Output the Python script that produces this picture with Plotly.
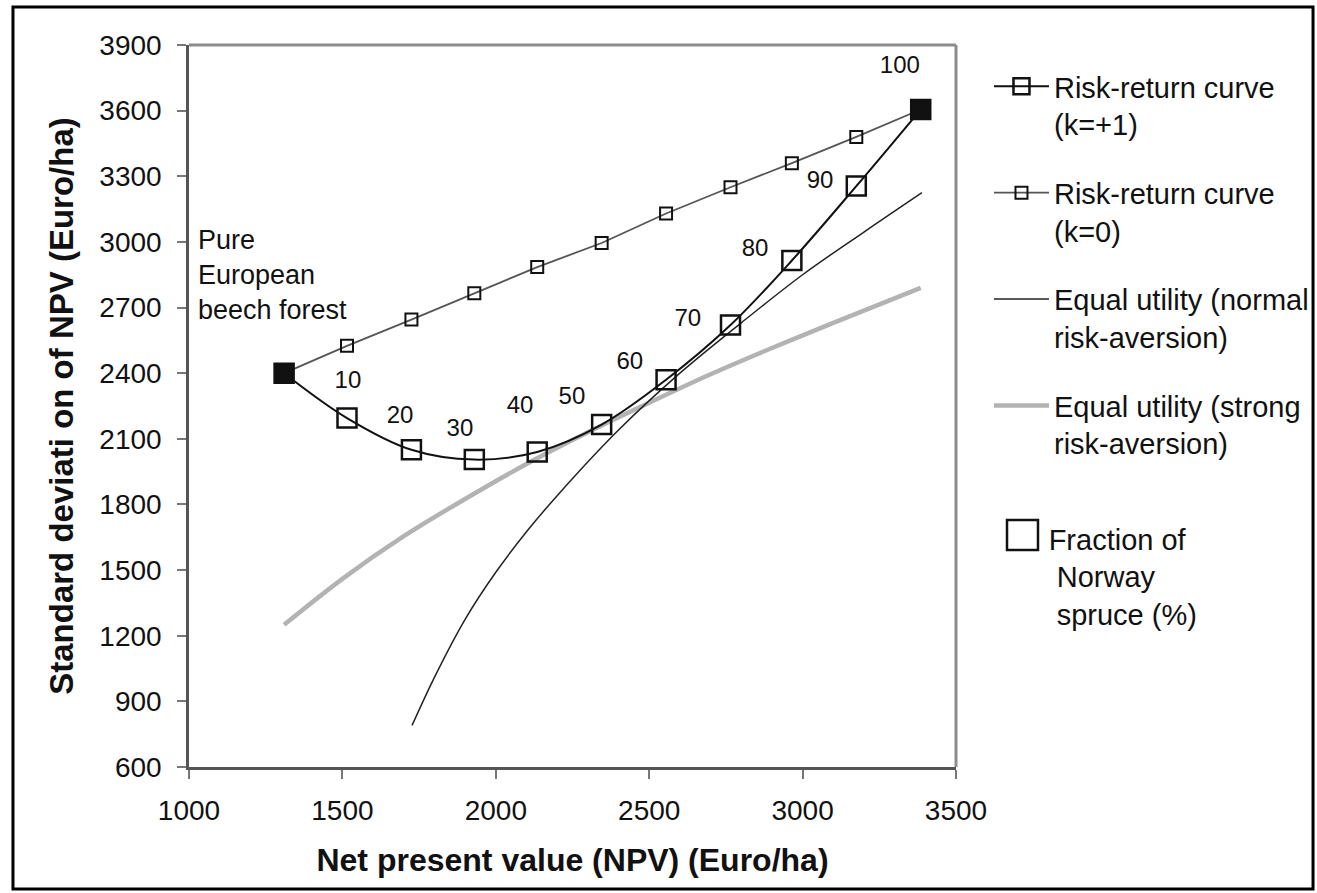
import plotly.graph_objects as go

# ---------------- data ----------------
fraction_labels = ["10", "20", "30", "40", "50", "60", "70", "80", "90", "100"]
label_x = [1518, 1688, 1883, 2079, 2248, 2437, 2626, 2845, 3057, 3317]
label_y = [2360, 2200, 2140, 2245, 2287, 2447, 2643, 2963, 3274, 3800]

npv = [1310, 1515, 1725, 1930, 2135, 2345, 2555, 2765, 2965, 3175, 3385]
sd_k_plus1 = [2400, 2195, 2050, 2005, 2040, 2165, 2370, 2620, 2915, 3255, 3605]
sd_k_zero = [2400, 2525, 2645, 2765, 2885, 2995, 3130, 3250, 3360, 3480, 3605]

normal_x = [1727, 1800, 1900, 2000, 2100, 2200, 2400, 2600, 2800, 3000, 3200, 3389]
normal_y = [790, 1010, 1275, 1490, 1675, 1840, 2140, 2400, 2630, 2850, 3045, 3225]

strong_x = [1310, 1500, 1700, 1900, 2100, 2300, 2500, 2700, 2900, 3100, 3385]
strong_y = [1250, 1460, 1655, 1825, 1985, 2130, 2265, 2395, 2515, 2630, 2790]

x_ticks = [1000, 1500, 2000, 2500, 3000, 3500]
y_ticks = [600, 900, 1200, 1500, 1800, 2100, 2400, 2700, 3000, 3300, 3600, 3900]

FONT = "Liberation Sans, Arial, sans-serif"
INK = "#111111"

fig = go.Figure()

fig.add_trace(go.Scatter(
    x=strong_x, y=strong_y, mode="lines", line_shape="spline",
    line=dict(color="#b3b3b3", width=4.5),
    name="Equal utility (strong<br>risk-aversion)", legendrank=4, legendgroup="d"))

fig.add_trace(go.Scatter(
    x=normal_x, y=normal_y, mode="lines", line_shape="spline",
    line=dict(color="#222222", width=1.5),
    name="Equal utility (normal<br>risk-aversion)", legendrank=3, legendgroup="c"))

fig.add_trace(go.Scatter(
    x=npv, y=sd_k_zero, mode="lines+markers",
    line=dict(color="#555555", width=1.8),
    marker=dict(symbol="square-open", size=12, color=INK, line=dict(width=2)),
    name="Risk-return curve<br>(k=0)", legendrank=2, legendgroup="b"))

fig.add_trace(go.Scatter(
    x=npv, y=sd_k_plus1, mode="lines+markers", line_shape="spline",
    line=dict(color=INK, width=2),
    marker=dict(symbol="square-open", size=19, color=INK, line=dict(width=2.5)),
    name="Risk-return curve<br>(k=+1)", legendrank=1, legendgroup="a"))

# shared end points (pure beech / pure spruce) appear filled
fig.add_trace(go.Scatter(
    x=[npv[0], npv[-1]], y=[sd_k_plus1[0], sd_k_plus1[-1]], mode="markers",
    marker=dict(symbol="square", size=19, color=INK, line=dict(width=1, color=INK)),
    showlegend=False, hoverinfo="skip"))

fig.add_trace(go.Scatter(
    x=label_x, y=label_y, mode="text", text=fraction_labels,
    textfont=dict(family=FONT, size=24, color=INK),
    showlegend=False, hoverinfo="skip"))

# legend entry for the fraction labels (its large square glyph is drawn as a shape below)
fig.add_trace(go.Scatter(
    x=[None], y=[None], mode="markers",
    marker=dict(symbol="square-open", size=10, color="rgba(0,0,0,0)"),
    name="Fraction of<br> Norway<br> spruce (%)", legend="legend2"))

fig.add_annotation(
    x=1024, y=2850, xref="x", yref="y", text="Pure<br>European<br>beech forest",
    showarrow=False, xanchor="left", yanchor="middle", align="left",
    font=dict(family=FONT, size=27, color=INK))

# plot-area border (top/right lighter grey)
fig.add_shape(type="line", xref="paper", yref="paper", x0=0, x1=1, y0=1, y1=1,
              line=dict(color="#8c8c8c", width=3))
fig.add_shape(type="line", xref="paper", yref="paper", x0=1, x1=1, y0=0, y1=1,
              line=dict(color="#8c8c8c", width=3))
# outer figure frame
fig.add_shape(type="rect", xref="paper", yref="paper",
              x0=-0.2295, x1=1.4655, y0=-0.169, y1=1.0526,
              line=dict(color="#000000", width=3))
# large legend square for "Fraction of Norway spruce"
fig.add_shape(type="rect", xref="paper", yref="paper",
              x0=1.0665, x1=1.1069, y0=0.3006, y1=0.3421,
              line=dict(color=INK, width=2.5))

fig.update_xaxes(
    range=[1000, 3500], tickvals=x_ticks, ticktext=[str(v) for v in x_ticks],
    showgrid=False, zeroline=False, showline=True, linecolor="#555555", linewidth=2.5,
    ticks="outside", ticklen=9, tickwidth=2, tickcolor="#777777", ticklabelstandoff=8,
    tickfont=dict(family=FONT, size=28, color=INK),
    title=dict(text="<b>Net present value (NPV) (Euro/ha)</b>",
               font=dict(family=FONT, size=32, color=INK), standoff=24))
fig.update_yaxes(
    range=[600, 3900], tickvals=y_ticks, ticktext=[str(v) for v in y_ticks],
    showgrid=False, zeroline=False, showline=True, linecolor="#555555", linewidth=2.5,
    ticks="outside", ticklen=9, tickwidth=2, tickcolor="#777777", ticklabelstandoff=10,
    tickfont=dict(family=FONT, size=28, color=INK),
    title=dict(text="<b>Standard deviati on of NPV (Euro/ha)</b>",
               font=dict(family=FONT, size=33, color=INK), standoff=16))

fig.update_layout(
    width=1317, height=893,
    margin=dict(l=189, r=361, t=45, b=126, autoexpand=False),
    paper_bgcolor="white", plot_bgcolor="white",
    font=dict(family=FONT, color=INK),
    legend=dict(x=1.043, y=0.978, xanchor="left", yanchor="top", valign="top",
                font=dict(family=FONT, size=29, color=INK), itemwidth=55,
                tracegroupgap=28, bgcolor="rgba(0,0,0,0)", itemsizing="trace"),
    legend2=dict(x=1.053, y=0.352, xanchor="left", yanchor="top", valign="top",
                 font=dict(family=FONT, size=29, color=INK), itemwidth=42,
                 bgcolor="rgba(0,0,0,0)", itemsizing="trace"),
    showlegend=True,
)

fig.write_html("out.html", config={"displayModeBar": False},
               post_script="document.body.style.margin='0px';")
